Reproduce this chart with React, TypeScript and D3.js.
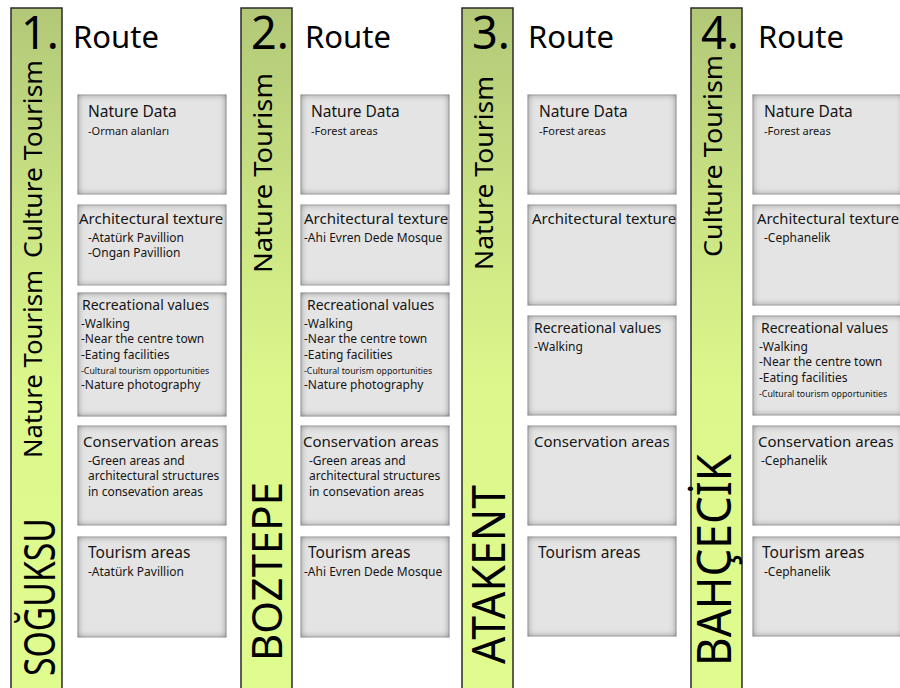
import React, { useRef, useEffect } from "react";
import * as d3 from "d3";

// route headers and the district / tourism labels on the green bars
const routeNumbers = ["1.", "2.", "3.", "4."];
const districts = ["SOĞUKSU", "BOZTEPE", "ATAKENT", "BAHÇECİK"];
const tourismTypes = [
  ["Nature Tourism", "Culture Tourism"],
  ["Nature Tourism"],
  ["Nature Tourism"],
  ["Culture Tourism"],
];

// box titles
const categories = [
  "Nature Data",
  "Architectural texture",
  "Recreational values",
  "Conservation areas",
  "Tourism areas",
];

// box contents per route
const route1Items = [
  ["-Orman alanları"],
  ["-Atatürk Pavillion", "-Ongan Pavillion"],
  ["-Walking", "-Near the centre town", "-Eating facilities", "-Cultural tourism opportunities", "-Nature photography"],
  ["-Green areas and", "architectural structures", "in consevation areas"],
  ["-Atatürk Pavillion"],
];
const route2Items = [
  ["-Forest areas"],
  ["-Ahi Evren Dede Mosque"],
  ["-Walking", "-Near the centre town", "-Eating facilities", "-Cultural tourism opportunities", "-Nature photography"],
  ["-Green areas and", "architectural structures", "in consevation areas"],
  ["-Ahi Evren Dede Mosque"],
];
const route3Items = [["-Forest areas"], [], ["-Walking"], [], []];
const route4Items = [
  ["-Forest areas"],
  ["-Cephanelik"],
  ["-Walking", "-Near the centre town", "-Eating facilities", "-Cultural tourism opportunities"],
  ["-Cephanelik"],
  ["-Cephanelik"],
];
const routeItems = [route1Items, route2Items, route3Items, route4Items];

export default function App() {
  const svgRef = useRef<SVGSVGElement>(null);

  useEffect(() => {
    const width = 900;
    const height = 688;
    const font = "'Noto Sans', 'DejaVu Sans', sans-serif";

    // layout
    const barX = [11, 241, 462, 691];
    const barW = 51;
    const routeX = [73, 305, 528, 758];
    const boxX = [78, 301, 528, 753];
    const boxW = [148, 148, 148, 150];
    const rowsShort = [[95, 194], [205, 285], [293, 416], [426, 525], [537, 637]];
    const rowsTall = [[95, 194], [205, 305], [316, 415], [426, 525], [537, 636]];
    const rows = [rowsShort, rowsShort, rowsTall, rowsTall];
    const titleDy = [22, 19, 17, 21, 21];
    const titleSize = [15.5, 15, 14, 15, 15.5];
    const titlePad = [
      [10, 1, 4, 5, 10],
      [10, 3, 6, 2, 7],
      [11, 4, 6, 6, 10],
      [11, 4, 8, 5, 9],
    ];
    const itemPad = [
      [10, 10, 3, 10, 10],
      [10, 3, 3, 8, 3],
      [11, 4, 6, 8, 10],
      [11, 11, 6, 8, 11],
    ];
    const itemSize = [11, 12, 12, 12, 12];
    const districtPos = [
      { y: 676, len: 158, size: 44, dx: 44 },
      { y: 661, len: 179, size: 41, dx: 41 },
      { y: 664, len: 179, size: 45, dx: 43 },
      { y: 666, len: 212, size: 48, dx: 40 },
    ];
    const themePos = [
      [{ y: 458, len: 188 }, { y: 258, len: 198 }],
      [{ y: 273, len: 200 }],
      [{ y: 270, len: 194 }],
      [{ y: 257, len: 202 }],
    ];

    d3.select(svgRef.current).selectAll("*").remove();
    const svg = d3
      .select(svgRef.current)
      .attr("width", width)
      .attr("height", height)
      .style("font-family", font);

    svg.append("rect").attr("width", width).attr("height", height).attr("fill", "#ffffff");

    const defs = svg.append("defs");
    const grad = defs
      .append("linearGradient")
      .attr("id", "barGrad")
      .attr("x1", 0)
      .attr("y1", 0)
      .attr("x2", 0)
      .attr("y2", 1);
    [
      [0, "#b2c878"],
      [0.3, "#cbe484"],
      [0.55, "#dcf78b"],
      [1, "#e0fc8e"],
    ].forEach(([o, c]) => grad.append("stop").attr("offset", o as number).attr("stop-color", c as string));

    // inner shadow for the grey boxes
    const f = defs
      .append("filter")
      .attr("id", "inset")
      .attr("x", "-5%")
      .attr("y", "-5%")
      .attr("width", "110%")
      .attr("height", "110%");
    f.append("feFlood").attr("flood-color", "#555555").attr("result", "flood");
    f.append("feComposite").attr("in", "flood").attr("in2", "SourceAlpha").attr("operator", "out").attr("result", "outside");
    f.append("feGaussianBlur").attr("in", "outside").attr("stdDeviation", 3.5).attr("result", "blur");
    f.append("feComposite").attr("in", "blur").attr("in2", "SourceAlpha").attr("operator", "in").attr("result", "shadow");
    const merge = f.append("feMerge");
    merge.append("feMergeNode").attr("in", "SourceGraphic");
    merge.append("feMergeNode").attr("in", "shadow");

    routeNumbers.forEach((num, i) => {
      const g = svg.append("g");
      const bx = barX[i];

      // green bar
      g.append("rect")
        .attr("x", bx)
        .attr("y", 8)
        .attr("width", barW)
        .attr("height", height)
        .attr("fill", "url(#barGrad)")
        .attr("stroke", "#2a2a2a")
        .attr("stroke-width", 1.5);

      g.append("text")
        .attr("x", bx + 10)
        .attr("y", 49)
        .attr("font-size", 45)
        .attr("fill", "#000")
        .text(num);

      g.append("text")
        .attr("x", routeX[i])
        .attr("y", 48)
        .attr("font-size", 31)
        .attr("fill", "#000")
        .text("Route");

      // vertical district name
      const dp = districtPos[i];
      g.append("text")
        .attr("transform", `translate(${bx + dp.dx},${dp.y}) rotate(-90)`)
        .attr("font-size", dp.size)
        .attr("textLength", dp.len)
        .attr("lengthAdjust", "spacingAndGlyphs")
        .attr("fill", "#000")
        .text(districts[i]);

      tourismTypes[i].forEach((t, k) => {
        const tp = themePos[i][k];
        g.append("text")
          .attr("transform", `translate(${bx + 31},${tp.y}) rotate(-90)`)
          .attr("font-size", 26)
          .attr("textLength", tp.len)
          .attr("lengthAdjust", "spacingAndGlyphs")
          .attr("fill", "#000")
          .text(t);
      });

      // category boxes
      categories.forEach((cat, c) => {
        const [y0, y1] = rows[i][c];
        const x0 = boxX[i];
        g.append("rect")
          .attr("x", x0)
          .attr("y", y0)
          .attr("width", boxW[i])
          .attr("height", y1 - y0)
          .attr("fill", "#e4e4e4")
          .attr("stroke", "#bdbdbd")
          .attr("stroke-width", 1)
          .attr("filter", "url(#inset)");

        const ty = y0 + titleDy[c];
        const title = g
          .append("text")
          .attr("x", x0 + titlePad[i][c])
          .attr("y", ty)
          .attr("font-size", titleSize[c])
          .attr("fill", "#151515")
          .text(cat);
        // keep the title inside the page width
        const node = title.node() as SVGTextElement;
        const room = width - 1 - (x0 + titlePad[i][c]);
        if (node && node.getComputedTextLength() > room) {
          title.attr("textLength", room).attr("lengthAdjust", "spacingAndGlyphs");
        }

        routeItems[i][c].forEach((item, n) => {
          const small = item.startsWith("-Cultural");
          g.append("text")
            .attr("x", x0 + itemPad[i][c])
            .attr("y", ty + 18 + n * 15.3)
            .attr("font-size", small ? 8.8 : itemSize[c])
            .attr("fill", "#151515")
            .text(item);
        });
      });
    });
  }, []);

  return (
    <svg
      ref={svgRef}
      style={{ position: "absolute", left: 0, top: 0, display: "block" }}
    ></svg>
  );
}
